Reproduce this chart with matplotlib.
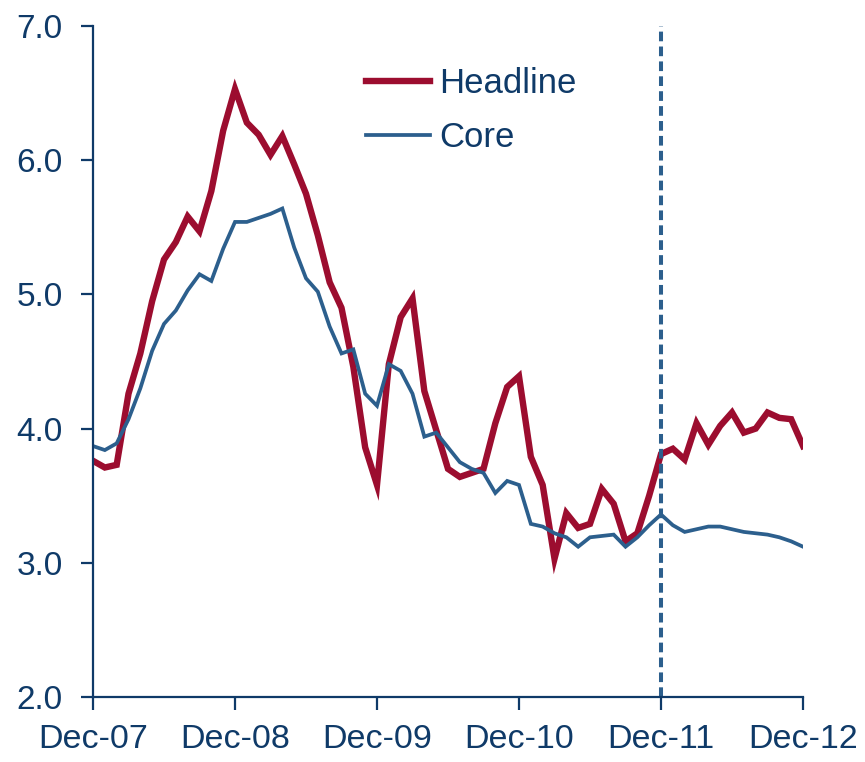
"""Headline vs core inflation, Dec-07 to Dec-12."""

import matplotlib

matplotlib.use("Agg")
import matplotlib.pyplot as plt

# monthly values, Dec-07 .. Dec-12 (61 months)
headline = [
    3.76, 3.71, 3.73, 4.26, 4.56, 4.95, 5.26, 5.39, 5.58, 5.47, 5.77, 6.22,
    6.53, 6.28, 6.19, 6.04, 6.18, 5.97, 5.75, 5.44, 5.09, 4.90, 4.46, 3.86,
    3.58, 4.48, 4.83, 4.97, 4.28, 3.99, 3.70, 3.64, 3.67, 3.70, 4.04, 4.31,
    4.39, 3.79, 3.58, 3.03, 3.37, 3.26, 3.29, 3.55, 3.44, 3.16, 3.22, 3.50,
    3.81, 3.85, 3.77, 4.04, 3.88, 4.02, 4.12, 3.97, 4.00, 4.12, 4.08, 4.07,
    3.87,
]
core = [
    3.87, 3.84, 3.89, 4.07, 4.30, 4.58, 4.78, 4.88, 5.03, 5.15, 5.10, 5.34,
    5.54, 5.54, 5.57, 5.60, 5.64, 5.35, 5.12, 5.02, 4.76, 4.56, 4.59, 4.26,
    4.17, 4.48, 4.43, 4.26, 3.94, 3.97, 3.86, 3.75, 3.70, 3.67, 3.52, 3.61,
    3.58, 3.29, 3.27, 3.22, 3.19, 3.12, 3.19, 3.20, 3.21, 3.12, 3.19, 3.28,
    3.36, 3.28, 3.23, 3.25, 3.27, 3.27, 3.25, 3.23, 3.22, 3.21, 3.19, 3.16,
    3.12,
]
tick_labels = ["Dec-07", "Dec-08", "Dec-09", "Dec-10", "Dec-11", "Dec-12"]
forecast_start = 48  # Dec-11

RED = "#9c0d2f"
BLUE = "#2c5f8d"
NAVY = "#0f3a68"

plt.rcParams["font.family"] = ["Liberation Sans", "DejaVu Sans"]

fig = plt.figure(figsize=(8.65, 7.62), dpi=100)
ax = fig.add_axes([93 / 865, 1 - 697 / 762, 710 / 865, 671 / 762])

months = list(range(len(headline)))
ax.plot(months, headline, color=RED, lw=4.6, solid_joinstyle="miter", label="Headline")
ax.plot(months, core, color=BLUE, lw=2.7, solid_joinstyle="miter", label="Core")
ax.axvline(forecast_start, color=BLUE, lw=2.9, ls=(0, (2.4, 1.3)))

ax.set_xlim(0, 60)
ax.set_ylim(2.0, 7.0)
ax.set_xticks(range(0, 61, 12))
ax.set_xticklabels(tick_labels)
ax.set_yticks([2, 3, 4, 5, 6, 7])
ax.set_yticklabels([f"{v:.1f}" for v in [2, 3, 4, 5, 6, 7]])

for side in ("top", "right"):
    ax.spines[side].set_visible(False)
for side in ("left", "bottom"):
    ax.spines[side].set_color(NAVY)
    ax.spines[side].set_linewidth(1.6)
ax.tick_params(axis="both", colors=NAVY, width=1.6, length=9, direction="out")
ax.tick_params(axis="x", labelsize=24.5, pad=10.5)
ax.tick_params(axis="y", labelsize=24, pad=13)

leg = ax.legend(
    loc="upper left",
    bbox_to_anchor=(0.36, 0.965),
    frameon=False,
    fontsize=25,
    handlelength=1.85,
    handletextpad=0.25,
    labelspacing=0.6,
    borderpad=0,
)
for t in leg.get_texts():
    t.set_color(NAVY)

fig.savefig("out.png", dpi=100)
plt.close(fig)
